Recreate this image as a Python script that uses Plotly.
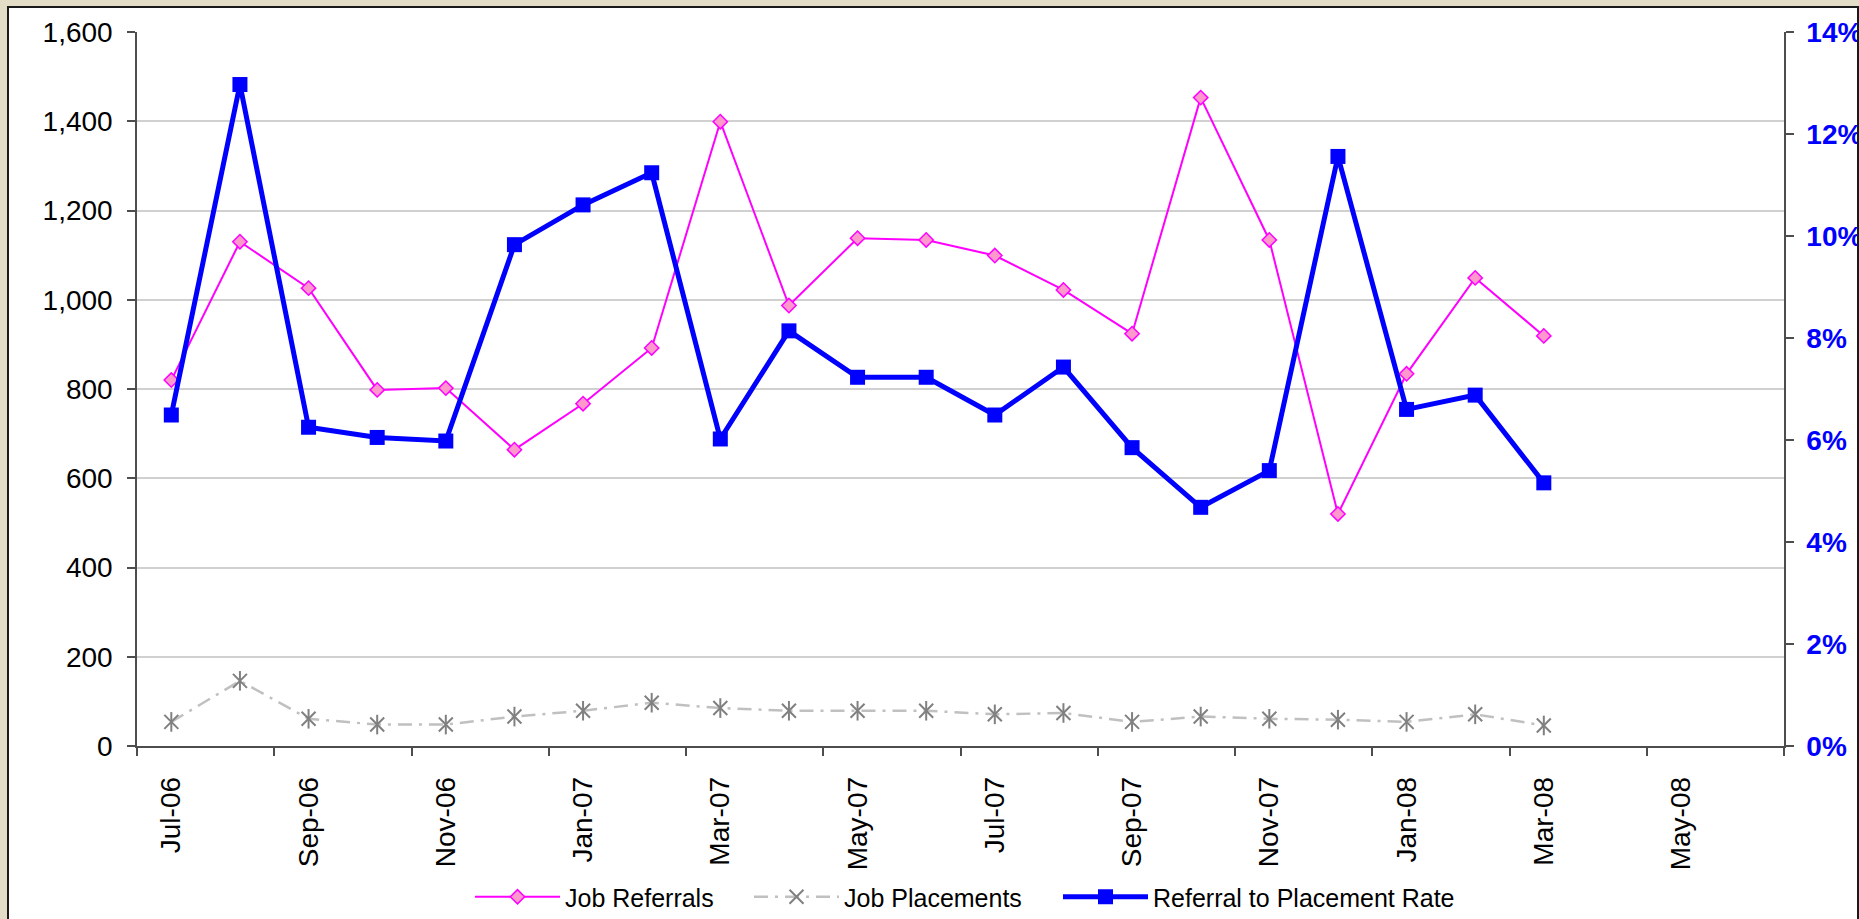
import plotly.graph_objects as go

# Month slots on the date axis (two-year window)
axis_months = ["Jul-06", "Aug-06", "Sep-06", "Oct-06", "Nov-06", "Dec-06",
               "Jan-07", "Feb-07", "Mar-07", "Apr-07", "May-07", "Jun-07",
               "Jul-07", "Aug-07", "Sep-07", "Oct-07", "Nov-07", "Dec-07",
               "Jan-08", "Feb-08", "Mar-08", "Apr-08", "May-08", "Jun-08"]

# Reported months
months = ["Jul-06", "Aug-06", "Sep-06", "Oct-06", "Nov-06", "Dec-06",
          "Jan-07", "Feb-07", "Mar-07", "Apr-07", "May-07", "Jun-07",
          "Jul-07", "Aug-07", "Sep-07", "Oct-07", "Nov-07", "Dec-07",
          "Jan-08", "Feb-08", "Mar-08"]

job_referrals = [820, 1130, 1026, 798, 802, 664, 767, 892, 1399, 987, 1138,
                 1134, 1099, 1022, 924, 1453, 1134, 520, 834, 1049, 919]

job_placements = [54, 146, 61, 48, 48, 66, 79, 97, 85, 79, 79, 79, 71, 74,
                  54, 66, 61, 59, 54, 71, 46]

placement_rate_pct = [6.49, 12.97, 6.25, 6.05, 5.98, 9.83, 10.61, 11.24, 6.02,
                      8.14, 7.23, 7.23, 6.49, 7.43, 5.85, 4.68, 5.40, 11.56,
                      6.60, 6.88, 5.16]

# Position of each reported month within the axis slots
x = [axis_months.index(m) for m in months]
label_idx = list(range(0, len(axis_months), 2))
label_text = [axis_months[i] for i in label_idx]
tick_bounds = [i - 0.5 for i in range(0, len(axis_months) + 1, 2)]

FONT = "Liberation Sans, Arial, sans-serif"
AXIS_COLOR = "#4d4d4d"

fig = go.Figure()

fig.add_trace(go.Scatter(
    x=x, y=job_referrals, name="Job Referrals", mode="lines+markers",
    legend="legend",
    line=dict(color="#FF00FF", width=2),
    marker=dict(symbol="diamond", size=11, color="#FF99CC",
                line=dict(color="#FF00FF", width=1.5)),
))

fig.add_trace(go.Scatter(
    x=x, y=job_placements, name="Job Placements", mode="lines+markers",
    legend="legend2", legendgroup="placements",
    line=dict(color="#C0C0C0", width=2.5, dash="14px,7px,3px,7px"),
    marker=dict(symbol="x-thin-open", size=14, color="#808080",
                line=dict(color="#808080", width=2)),
))
# vertical stroke completing the star-shaped placement markers
fig.add_trace(go.Scatter(
    x=x, y=job_placements, mode="markers", legend="legend2",
    legendgroup="placements", showlegend=False, hoverinfo="skip",
    marker=dict(symbol="line-ns-open", size=14, color="#808080",
                line=dict(color="#808080", width=2)),
))

fig.add_trace(go.Scatter(
    x=x, y=placement_rate_pct, name="Referral to Placement Rate",
    mode="lines+markers", yaxis="y2", legend="legend3",
    line=dict(color="#0000FF", width=5),
    marker=dict(symbol="square", size=15, color="#0000FF"),
))

# plot area spans x 137..1784, y 32..746 of a 1859x919 canvas
L, R, T, B = 137, 75, 32, 173
W, H = 1859, 919
pw, ph = W - L - R, H - T - B


def px_x(v):
    return (v - L) / pw


def px_y(v):
    return (H - B - v) / ph


def legend_box(left_px):
    return dict(
        orientation="h", xref="container", yref="container",
        x=left_px / W, y=1 - 897 / H, xanchor="left", yanchor="middle",
        itemwidth=85, font=dict(family=FONT, size=25, color="black"),
        bgcolor="rgba(0,0,0,0)",
    )


fig.update_layout(
    width=W, height=H,
    margin=dict(l=L, r=R, t=T, b=B, pad=0),
    paper_bgcolor="#E3DDC8",
    plot_bgcolor="white",
    font=dict(family=FONT, size=28, color="black"),
    showlegend=True,
    xaxis=dict(
        range=[-0.5, len(axis_months) - 0.5],
        tickmode="array", tickvals=label_idx, ticktext=label_text,
        tickangle=-90, ticks="", showgrid=False, zeroline=False,
        showline=True, linecolor=AXIS_COLOR, linewidth=1.5,
        ticklabelstandoff=18, automargin=False,
        minor=dict(tickmode="array", tickvals=tick_bounds, ticks="outside",
                   ticklen=8, tickwidth=1.5, tickcolor=AXIS_COLOR,
                   showgrid=False),
    ),
    yaxis=dict(
        range=[0, 1600], dtick=200, tickformat=",",
        showgrid=True, gridcolor="#D0D0D0", gridwidth=1.5, zeroline=False,
        showline=True, linecolor=AXIS_COLOR, linewidth=1.5,
        ticks="outside", ticklen=8, tickwidth=1.5, tickcolor=AXIS_COLOR,
        ticklabelstandoff=9, automargin=False,
    ),
    yaxis2=dict(
        overlaying="y", side="right", range=[0, 14], dtick=2,
        ticksuffix="%", showgrid=False, zeroline=False,
        showline=True, linecolor=AXIS_COLOR, linewidth=1.5,
        ticks="outside", ticklen=8, tickwidth=1.5, tickcolor=AXIS_COLOR,
        ticklabelstandoff=7, automargin=False,
        tickfont=dict(family=FONT, size=28, color="#0000FF", weight="bold"),
    ),
    legend=legend_box(470),
    legend2=legend_box(749),
    legend3=legend_box(1058),
    shapes=[
        dict(type="rect", xref="paper", yref="paper", layer="below",
             x0=px_x(8), x1=px_x(1858), y0=px_y(940), y1=px_y(7),
             fillcolor="white", line=dict(width=0)),
        dict(type="rect", xref="paper", yref="paper", layer="above",
             x0=px_x(8), x1=px_x(1858), y0=px_y(940), y1=px_y(7),
             fillcolor="rgba(0,0,0,0)", line=dict(color="#1a1a1a", width=2)),
    ],
)

fig.write_html("out.html", config={"displayModeBar": False})
